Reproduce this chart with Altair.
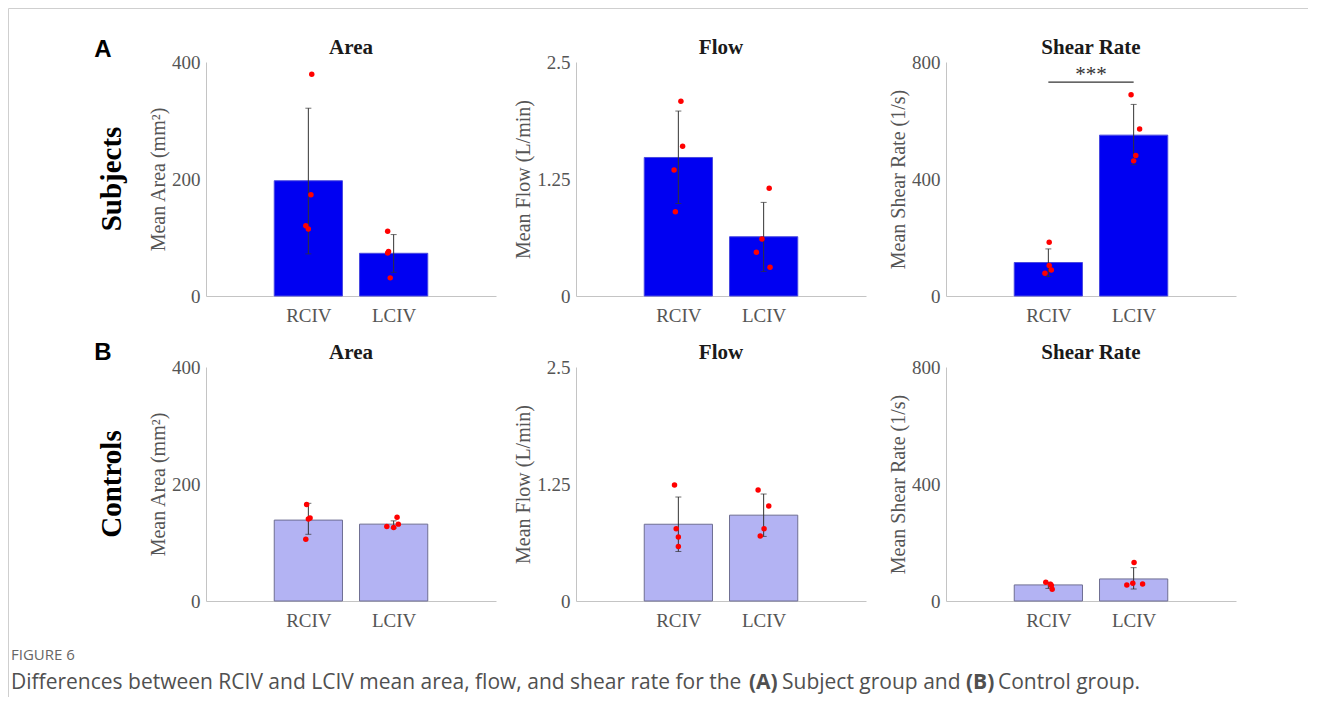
import altair as alt
import pandas as pd

# ---------------- data ----------------
VESSELS = ["RCIV", "LCIV"]
POSITIONS = [1, 2]

METRICS = ["Area", "Flow", "Shear Rate"]
Y_TITLES = ["Mean Area (mm²)", "Mean Flow (L/min)", "Mean Shear Rate (1/s)"]
Y_MAX = [400, 2.5, 800]
Y_TICKS = [[0, 200, 400], [0, 1.25, 2.5], [0, 400, 800]]

# Subjects (row A)
SUBJ_MEAN = [[197, 73], [1.48, 0.633], [114.5, 550]]
SUBJ_LO = [[72, 40.5], [0.988, 0.263], [66.5, 449]]
SUBJ_HI = [[321, 105], [1.976, 1.00], [161, 655]]
SUBJ_PTS = [
    [[379, 173, 120, 114.5], [110.5, 76, 73.5, 31]],
    [[2.08, 1.60, 1.347, 0.90], [1.15, 0.608, 0.468, 0.306]],
    [[184, 104, 89, 78], [688, 571, 480, 462]],
]
SUBJ_JIT = [
    [[0.04, 0.03, -0.03, 0.0], [-0.07, -0.06, -0.07, -0.04]],
    [[0.03, 0.05, -0.05, -0.035], [0.065, -0.02, -0.085, 0.075]],
    [[0.01, 0.01, 0.035, -0.04], [-0.03, 0.07, 0.025, 0.0]],
]

# Controls (row B)
CTRL_MEAN = [[138.3, 131.4], [0.82, 0.917], [55, 75.4]]
CTRL_LO = [[114, 124.6], [0.529, 0.69], [43, 41]]
CTRL_HI = [[167, 137], [1.111, 1.143], [64, 114]]
CTRL_PTS = [
    [[165, 141.7, 140, 105.7], [143, 131.4, 127.5, 125.8]],
    [[1.24, 0.773, 0.683, 0.583], [1.187, 1.014, 0.773, 0.694]],
    [[64, 57, 53, 40], [131.6, 60.7, 58.4, 55]],
]
CTRL_JIT = [
    [[-0.02, 0.02, 0.0, -0.03], [0.04, 0.055, -0.08, 0.0]],
    [[-0.045, -0.025, 0.0, 0.0], [-0.065, 0.06, 0.005, -0.04]],
    [[-0.03, 0.025, 0.035, 0.045], [0.005, -0.01, 0.105, -0.08]],
]

SIG_Y = [731]          # significance bracket level (shear rate, subjects)
SIG_TEXT = ["***"]

CAPTION_PARTS = ["Differences between RCIV and LCIV mean area, flow, and shear rate for the",
                 "(A)", "Subject group and", "(B)", "Control group."]
CAPTION_WEIGHTS = ["normal", "bold", "normal", "bold", "normal"]

# ---------------- styling ----------------
W, H = 290, 234
X_DOMAIN = [-0.2, 3.2]
HALF = 0.4
SERIF = "Liberation Serif"
SANS = "Open Sans"
AXIS_GRAY = "#c4c4c4"
TEXT_GRAY = "#555555"
SUBJ_FILL, SUBJ_EDGE = "#0000f2", "#4a4ae0"
CTRL_FILL, CTRL_EDGE = "#b3b3f3", "#6e6e92"

# page offsets of panel (0,0) plot origin, used for annotations
OX, OY = 207, 63


def xenc(field):
    return alt.X(field, type="quantitative",
                 scale=alt.Scale(domain=X_DOMAIN, nice=False, zero=False),
                 axis=alt.Axis(values=POSITIONS,
                               labelExpr="datum.value == 1 ? 'RCIV' : 'LCIV'",
                               title=None, ticks=False, grid=False,
                               domainColor=AXIS_GRAY, labelFont=SERIF,
                               labelFontSize=19, labelColor=TEXT_GRAY,
                               labelPadding=10))


def yenc(field, m):
    return alt.Y(field, type="quantitative",
                 scale=alt.Scale(domain=[0, Y_MAX[m]], nice=False),
                 axis=alt.Axis(values=Y_TICKS[m], labelExpr="'' + datum.value",
                               title=Y_TITLES[m],
                               ticks=False, grid=False, domainColor=AXIS_GRAY,
                               labelFont=SERIF, labelFontSize=19, labelColor=TEXT_GRAY,
                               labelPadding=6, titleFont=SERIF, titleFontSize=20,
                               titleFontWeight="normal", titleColor=TEXT_GRAY,
                               titlePadding=3))


one = pd.DataFrame({"k": [0]})


def label(text, px, py, font, size, weight="normal", color="#000", angle=0,
          align="center", baseline="middle"):
    return alt.Chart(one).mark_text(text=text, font=font, fontSize=size, fontWeight=weight,
                                    color=color, angle=angle, align=align,
                                    baseline=baseline).encode(
        x=alt.value(px), y=alt.value(py))


def panel(m, mean, lo, hi, pts, jit, fill, edge, extras=()):
    bars = pd.DataFrame({"pos": POSITIONS, "vessel": VESSELS,
                         "mean": mean, "lo": lo, "hi": hi})
    bars["left"] = bars["pos"] - HALF
    bars["right"] = bars["pos"] + HALF
    bars["zero"] = 0
    rows = []
    for i in range(2):
        for v, j in zip(pts[i], jit[i]):
            rows.append({"x": POSITIONS[i] + j, "val": v})
    dots = pd.DataFrame(rows)

    base = alt.Chart(bars)
    bar = base.mark_bar(fill=fill, stroke=edge, strokeWidth=1).encode(
        x=xenc("left"), x2="right:Q", y=yenc("mean", m), y2="zero:Q")
    err = base.mark_rule(color="#333333", strokeWidth=1).encode(
        x=xenc("pos"), y=yenc("lo", m), y2="hi:Q")
    cap_lo = base.mark_tick(orient="horizontal", size=6, thickness=1, color="#333333").encode(
        x=xenc("pos"), y=yenc("lo", m))
    cap_hi = base.mark_tick(orient="horizontal", size=6, thickness=1, color="#333333").encode(
        x=xenc("pos"), y=yenc("hi", m))
    pt = alt.Chart(dots).mark_circle(color="#ff0000", size=30, opacity=1).encode(
        x=xenc("x"), y=yenc("val", m))
    ttl = label(METRICS[m], W / 2, -8, SERIF, 21, "bold", color="#1a1a1a",
                baseline="alphabetic")
    layers = [bar, err, cap_lo, cap_hi, pt, ttl] + list(extras)
    return alt.layer(*layers).properties(width=W, height=H)


# annotations for the first panel (page coordinates -> panel coordinates)
frame_left = alt.Chart(one).mark_rule(color="#cfcfcf", strokeWidth=1).encode(
    x=alt.value(-197.5), y=alt.value(-53.5), y2=alt.value(698 - OY))
frame_top = alt.Chart(one).mark_rule(color="#cfcfcf", strokeWidth=1).encode(
    x=alt.value(-197.5), x2=alt.value(1309 - OX), y=alt.value(-53.5))

CAP_X = [12, 750, 783, 967, 999]
cap_layers = [label("FIGURE 6", 12 - OX, 656 - OY, SANS, 15, color="#666666", align="left")]
for txt, wgt, cx in zip(CAPTION_PARTS, CAPTION_WEIGHTS, CAP_X):
    cap_layers.append(label(txt, cx - OX, 684 - OY, SANS, 21, weight=wgt,
                            color="#505050", align="left"))

extras1 = [frame_left, frame_top,
           label("A", 104 - OX, 51 - OY, "Liberation Sans", 24, "bold"),
           label("Subjects", 113 - OX, H / 2, SERIF, 29, "bold", angle=270)] + cap_layers

extras4 = [label("B", 104 - OX, 354 - 368, "Liberation Sans", 24, "bold"),
           label("Controls", 113 - OX, H / 2, SERIF, 29, "bold", angle=270)]

sig = pd.DataFrame({"a": [POSITIONS[0]], "b": [POSITIONS[1]], "y": SIG_Y,
                    "mid": [(POSITIONS[0] + POSITIONS[1]) / 2], "t": SIG_TEXT})
sig_line = alt.Chart(sig).mark_rule(color="#333333", strokeWidth=1.2).encode(
    x=xenc("a"), x2="b:Q", y=yenc("y", 2))
sig_text = alt.Chart(sig).mark_text(font=SERIF, fontSize=21, color="#333333",
                                    baseline="alphabetic", dy=-1).encode(
    x=xenc("mid"), y=yenc("y", 2), text="t:N")

panels = []
for m in range(3):
    ex = extras1 if m == 0 else ([sig_line, sig_text] if m == 2 else [])
    panels.append(panel(m, SUBJ_MEAN[m], SUBJ_LO[m], SUBJ_HI[m], SUBJ_PTS[m], SUBJ_JIT[m],
                        SUBJ_FILL, SUBJ_EDGE, ex))
for m in range(3):
    ex = extras4 if m == 0 else []
    panels.append(panel(m, CTRL_MEAN[m], CTRL_LO[m], CTRL_HI[m], CTRL_PTS[m], CTRL_JIT[m],
                        CTRL_FILL, CTRL_EDGE, ex))

chart = alt.concat(*panels, columns=3, spacing={"row": 71, "column": 80},
                   bounds="flush").properties(padding=0).configure_view(stroke=None)

chart.save("out.html", embed_options={"renderer": "svg", "actions": False})
